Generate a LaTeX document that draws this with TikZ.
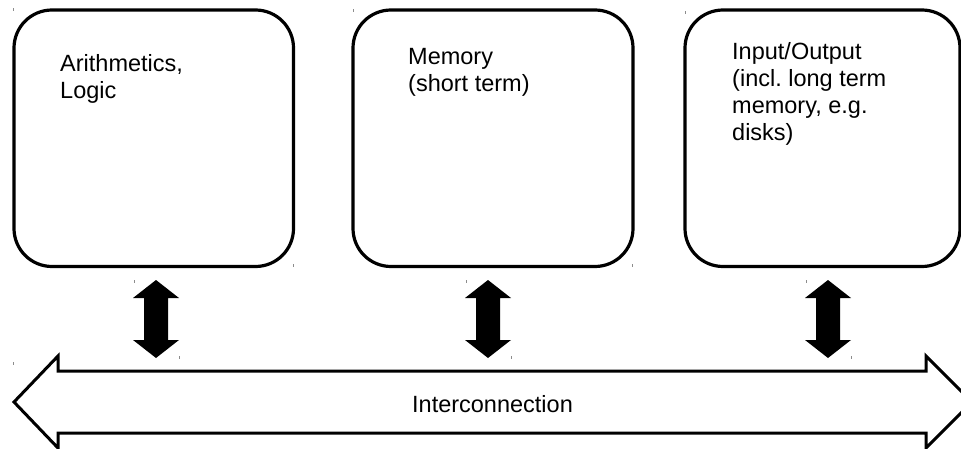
\documentclass[tikz,border=0pt]{standalone}
\usepackage{fontspec}
\setmainfont{Liberation Sans}
\begin{document}
\begin{tikzpicture}[x=1pt,y=-1pt,
  unitbox/.style={draw=black,line width=3.2pt,rounded corners=38pt,fill=white},
  lbl/.style={anchor=base west,inner sep=0pt,align=left,font=\fontsize{23.5}{27}\selectfont},
  link/.style={fill=black,draw=none},
  bus/.style={draw=black,line width=3pt,line join=miter,fill=white},
  handle/.style={fill=black!45,draw=none}]
\clip (0,0) rectangle (961,449);
\useasboundingbox (0,0) rectangle (961,449);
\fill[white] (0,0) rectangle (961,449);

% boxes
\draw[unitbox] (14,10) rectangle (293.5,266.5);
\draw[unitbox] (353,10) rectangle (633,266.5);
\draw[unitbox] (685,10) rectangle (960,266.5);

% labels (anchored at the baseline of their last line)
\node[lbl] (t1) at (60,99) {Arithmetics,\\Logic};
\node[lbl] (t2) at (408,92) {Memory\\(short term)};
\node[lbl] (t3) at (732,141) {Input/Output\\(incl.\ long term\\memory, e.g.\\disks)};

% vertical double arrows
\foreach \n/\cx in {a/156,b/488,c/828}{
  \fill[link] (\cx,280) -- (\cx+23,298) -- (\cx+12,298) -- (\cx+12,340) -- (\cx+23,340)
    -- (\cx,358) -- (\cx-23,340) -- (\cx-12,340) -- (\cx-12,298) -- (\cx-23,298) -- cycle;
}

% interconnection bus
\draw[bus] (14,402) -- (58,356) -- (58,371) -- (926,371) -- (926,356) -- (972,402)
  -- (926,448) -- (926,433) -- (58,433) -- (58,448) -- cycle;
\node[lbl,anchor=base] (bus) at (492.5,412) {Interconnection};

% faint selection handles
\foreach \hx/\hy in {13/8,292.5/264,353/9,632/264,685/11,134/280,179/356,466/280,511/356,806/280,851/356,13/362}{
  \fill[handle] (\hx,\hy) rectangle ++(1,3);
}
\end{tikzpicture}
\end{document}
